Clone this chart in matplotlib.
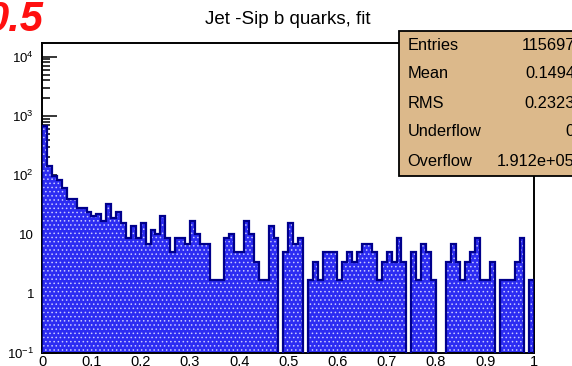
import numpy as np
import matplotlib.pyplot as plt
from matplotlib.ticker import FixedLocator, MultipleLocator
from matplotlib.patches import Rectangle

plt.rcParams['font.family'] = ['Liberation Sans', 'DejaVu Sans']
plt.rcParams['mathtext.fontset'] = 'custom'
plt.rcParams['mathtext.rm'] = 'Liberation Sans'
plt.rcParams['mathtext.it'] = 'Liberation Sans:italic'
plt.rcParams['hatch.linewidth'] = 0.6

# histogram: 100 bins on [0, 1], weighted entries
x_lo, x_hi, n_bins = 0.0, 1.0, 100
weight = 1.72
counts = [392, 83, 57, 49, 36, 23, 23, 16, 16, 14,
          12, 13, 10, 19, 11, 14, 9, 5, 8, 5,
          9, 4, 7, 6, 12, 5, 3, 5, 5, 4,
          10, 6, 4, 4, 1, 1, 1, 5, 6, 3,
          3, 10, 6, 2, 1, 1, 8, 5, 0, 3,
          9, 4, 5, 0, 1, 2, 1, 3, 3, 3,
          1, 2, 3, 2, 3, 4, 4, 3, 1, 2,
          3, 2, 5, 2, 0, 3, 1, 4, 3, 1,
          0, 0, 2, 4, 2, 1, 2, 3, 5, 1,
          1, 2, 0, 1, 1, 1, 2, 5, 0, 1]

title = 'Jet -Sip b quarks, fit'
stats_names = ['Entries', 'Mean', 'RMS', 'Underflow', 'Overflow']
stats_values = ['115697', '0.1494', '0.2323', '0', '1.912e+05']

ytick_vals = [0.1, 1, 10, 100, 1000, 10000]
ytick_text = ['$10^{-1}$', '1', '10', '$10^{2}$', '$10^{3}$', '$10^{4}$']
xtick_vals = [0, 0.1, 0.2, 0.3, 0.4, 0.5, 0.6, 0.7, 0.8, 0.9, 1.0]
xtick_text = ['0', '0.1', '0.2', '0.3', '0.4', '0.5', '0.6', '0.7', '0.8', '0.9', '1']

W, H = 572, 366
fig = plt.figure(figsize=(W / 100, H / 100), dpi=100)
ax = fig.add_axes([42.3 / W, 1 - 353 / H, 492 / W, (353 - 43.3) / H])

edges = np.linspace(x_lo, x_hi, n_bins + 1)
vals = np.array(counts, dtype=float) * weight
floor = 1e-3
shown = np.where(vals > 0, vals, floor)

ax.stairs(shown, edges, baseline=floor, fill=True, color='#2c2cf2', lw=0, zorder=2)
ax.stairs(shown, edges, baseline=floor, fill=True, facecolor='none',
          edgecolor='#c8c8ff', hatch='....', lw=0, zorder=3)
ax.stairs(shown, edges, baseline=floor, fill=False, color='#00008c', lw=1.6, zorder=4)

ax.set_yscale('log')
ax.set_xlim(x_lo, x_hi)
ax.set_ylim(0.1, 10 ** 4.226)

ax.yaxis.set_major_locator(FixedLocator(ytick_vals))
ax.set_yticklabels(ytick_text)
ax.xaxis.set_major_locator(FixedLocator(xtick_vals))
ax.set_xticklabels(xtick_text)
ax.xaxis.set_minor_locator(MultipleLocator(0.02))

ax.tick_params(axis='y', which='major', direction='in', length=10.8, width=1.1,
               labelsize=9.5, pad=6, right=False)
ax.tick_params(axis='y', which='minor', direction='in', length=5.8, width=1.1, right=False)
ax.tick_params(axis='x', which='major', direction='in', length=5.8, width=1.1,
               labelsize=10.5, pad=1.5, top=False)
ax.tick_params(axis='x', which='minor', direction='in', length=2.9, width=1.1, top=False)
for s in ax.spines.values():
    s.set_linewidth(1.4)

# overlay in pixel coordinates for title, label and stats box
ov = fig.add_axes([0, 0, 1, 1], zorder=10)
ov.set_xlim(0, W)
ov.set_ylim(H, 0)
ov.axis('off')

ov.text(288, 24.5, title, ha='center', va='baseline', fontsize=13.5)
ov.text(43, 31, '0.5', ha='right', va='baseline', fontsize=30,
        fontweight='bold', fontstyle='italic', color='#ff1010')

ov.add_patch(Rectangle((399.3, 31), 250, 145, facecolor='#dcb98b',
                       edgecolor='black', lw=1.3))
for i, (name, val) in enumerate(zip(stats_names, stats_values)):
    yb = 49.5 + 29 * i
    ov.text(407.5, yb, name, ha='left', va='baseline', fontsize=11.8)
    ov.text(575, yb, val, ha='right', va='baseline', fontsize=11.8)

fig.savefig('out.png', dpi=100)
